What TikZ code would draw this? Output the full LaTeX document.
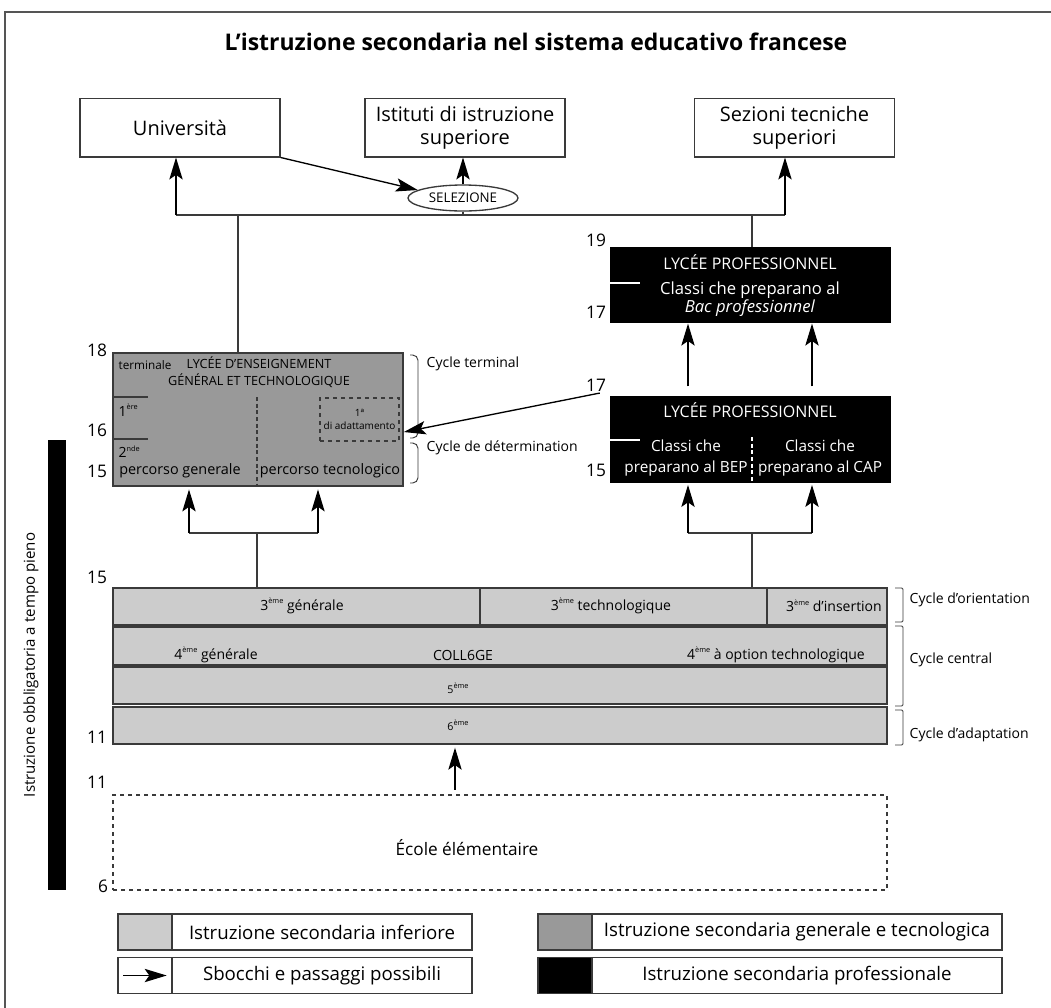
\documentclass[tikz,border=0pt]{standalone}
\usepackage{fontspec}
\setmainfont{Open Sans}
\usetikzlibrary{positioning,shapes,arrows.meta}

\definecolor{colgray}{HTML}{CCCCCC}
\definecolor{lycgray}{HTML}{999999}
\definecolor{edgegray}{HTML}{3A3A3A}
\definecolor{framegray}{HTML}{555555}
\newcommand{\esp}[1]{\raisebox{0.85ex}{\fontsize{5.5}{6}\selectfont #1}}

\begin{document}
\begin{tikzpicture}[x=0.75pt, y=-0.75pt]
    \tikzset{
        topbox/.style = {rectangle, draw=edgegray, line width=1pt, fill=white, minimum width=150pt, minimum height=44pt, align=center, inner sep=1pt, font=\fontsize{15}{17.25}\selectfont},
        lycbox/.style = {rectangle, draw=edgegray, line width=1.2pt, fill=lycgray, minimum width=217.5pt, minimum height=99.75pt},
        probox/.style = {rectangle, draw=black, fill=black, minimum width=210pt},
        rowbox/.style = {rectangle, draw=edgegray, line width=1.3pt, fill=colgray, minimum width=580.5pt, minimum height=28pt},
        age/.style = {font=\fontsize{13}{14}\selectfont},
        cyc/.style = {anchor=west, font=\fontsize{10.5}{12}\selectfont},
        coltext/.style = {font=\fontsize{10.5}{12}\selectfont},
        wtext/.style = {text=white, align=center},
        brack/.style = {draw=edgegray, line width=0.7pt},
        line/.style = {draw=edgegray, line width=1pt},
        arrow/.style = {draw=black, line width=1pt, -{Stealth[length=16.5pt, width=10pt, inset=3.5pt]}},
        legbox/.style = {rectangle, draw=edgegray, line width=1pt, minimum height=27pt, inner sep=0pt, outer sep=0pt}
    }
    \fill[white] (0,0) rectangle (1051,1008);
    \useasboundingbox (0,0) rectangle (1051,1008);
    \draw[framegray, line width=1.1pt] (5,1008) -- (5,12) -- (1051,12);

    \node (title) at (536,42) {\fontsize{17.2}{19}\selectfont\bfseries L’istruzione secondaria nel sistema educativo francese};

    % sbocchi
    \node (uni) [topbox] at (180,127.5) {Università};
    \node (isup) [topbox] at (465,127.5) {Istituti di istruzione\\superiore};
    \node (sts) [topbox] at (794.5,127.5) {Sezioni tecniche\\superiori};
    \node (sel) [ellipse, draw=edgegray, line width=1pt, fill=white, minimum width=82.5pt, minimum height=19.5pt, inner sep=0pt, font=\fontsize{10}{11}\selectfont] at (463,198) {SELEZIONE};

    \coordinate (hl) at (176,215);
    \coordinate (hr) at (785,215);
    \coordinate (hg) at (238,215);
    \coordinate (hp) at (752,215);

    % lycee general et technologique
    \node (lyg) [lycbox] at (258,419.5) {};
    \node (lygt) [font=\fontsize{9.5}{12.75}\selectfont, align=center] at (259,372.5) {LYCÉE D’ENSEIGNEMENT\\GÉNÉRAL ET TECHNOLOGIQUE};
    \node (term) [anchor=west, font=\fontsize{8.8}{10}\selectfont] at (114,365) {terminale};
    \node (prem) [anchor=west, font=\fontsize{10.5}{12}\selectfont] at (114,410) {1\esp{ère}};
    \node (sec) [anchor=west, font=\fontsize{10.5}{12}\selectfont] at (114,452) {2\esp{nde}};
    \node (pgen) [font=\fontsize{10.8}{12}\selectfont] at (180,471) {percorso generale};
    \node (ptec) [font=\fontsize{10.8}{12}\selectfont] at (330,471) {percorso tecnologico};
    \node (adat) [rectangle, draw=edgegray, dashed, line width=0.9pt, minimum width=59.25pt, minimum height=32.25pt, align=center, inner sep=0pt, font=\fontsize{7.5}{10}\selectfont] at (359.5,419.5) {1ª\\di adattamento};
    \draw[line] (113,397) -- (148,397);
    \draw[line] (113,439) -- (148,439);
    \draw[line, dash pattern=on 3pt off 2pt] (257,397) -- (257,486);

    % lycee professionnel
    \node (lp1) [probox, minimum height=56.25pt] at (750,284.5) {};
    \node (lp1t) [wtext, font=\fontsize{12}{13}\selectfont] at (750,262) {LYCÉE PROFESSIONNEL};
    \node (lp1c) [wtext, font=\fontsize{12.5}{13.5}\selectfont] at (750,299) {Classi che preparano al\\\textit{Bac professionnel}};
    \draw[white, line width=1pt] (610,283) -- (640,283);

    \node (lp2) [probox, minimum height=64.5pt] at (750,439) {};
    \node (lp2t) [wtext, font=\fontsize{12}{13}\selectfont] at (750,410) {LYCÉE PROFESSIONNEL};
    \node (bep) [wtext, font=\fontsize{11.5}{15.75}\selectfont] at (686,458) {Classi che\\preparano al BEP};
    \node (cap) [wtext, font=\fontsize{11.5}{15.75}\selectfont] at (820,458) {Classi che\\preparano al CAP};
    \draw[white, line width=1pt] (610,440) -- (640,440);
    \draw[white, line width=1pt, dash pattern=on 3pt off 2pt] (752,437) -- (752,482);

    % college
    \node (c3) [rowbox] at (500,606.5) {};
    \node (c4) [rowbox] at (500,646) {};
    \node (c5) [rowbox] at (500,685.5) {};
    \node (c6) [rowbox] at (500,725.5) {};
    \draw[line, line width=1.3pt] (480,588) -- (480,625);
    \draw[line, line width=1.3pt] (767,588) -- (767,625);
    \node (t3g) [coltext] at (302,606) {3\esp{ème} générale};
    \node (t3t) [coltext] at (611,606) {3\esp{ème} technologique};
    \node (t3i) [coltext] at (834,606) {3\esp{ème} d’insertion};
    \node (t4g) [coltext] at (216,655) {4\esp{ème} générale};
    \node (coll) [coltext] at (463,655) {COLL6GE};
    \node (t4t) [coltext] at (776,655) {4\esp{ème} à option technologique};
    \node (t5) [font=\fontsize{8}{9}\selectfont] at (458,688) {5\esp{ème}};
    \node (t6) [font=\fontsize{8}{9}\selectfont] at (458,725) {6\esp{ème}};

    % ecole
    \node (ecole) [rectangle, draw=edgegray, dashed, line width=0.9pt, minimum width=580.5pt, minimum height=71.25pt] at (500,842.5) {};
    \node (ecolet) [font=\fontsize{12.9}{14}\selectfont] at (467,848) {École élémentaire};
    \coordinate (ea) at (455,795);

    % eta
    \node (a19) [age] at (596,240) {19};
    \node (a17a) [age] at (596,312) {17};
    \node (a17b) [age] at (596,385) {17};
    \node (a15a) [age] at (596,470) {15};
    \node (a18) [age] at (97,350) {18};
    \node (a16) [age] at (97,430) {16};
    \node (a15b) [age] at (97,471) {15};
    \node (a15c) [age] at (97,577) {15};
    \node (a11a) [age] at (97,737) {11};
    \node (a11b) [age] at (97,782) {11};
    \node (a6) [age] at (103,886) {6};

    % cicli
    \draw[brack, rounded corners=4pt] (410,355) -- (418,355) -- (418,438) -- (410,438);
    \draw[brack, rounded corners=4pt] (410,443) -- (418,443) -- (418,483) -- (410,483);
    \draw[brack, rounded corners=1pt] (895,588) -- (903,588) -- (903,622) -- (895,622);
    \draw[brack, rounded corners=1pt] (895,626) -- (903,626) -- (903,706) -- (895,706);
    \draw[brack, rounded corners=1pt] (895,710) -- (903,710) -- (903,745) -- (895,745);
    \node (cterm) [cyc] at (422,364) {Cycle terminal};
    \node (cdet) [cyc] at (422,448) {Cycle de détermination};
    \node (cori) [cyc] at (905,600) {Cycle d’orientation};
    \node (ccen) [cyc] at (905,660) {Cycle central};
    \node (cada) [cyc] at (905,735) {Cycle d’adaptation};

    % obbligo
    \fill[black] (48,440) rectangle (66,890);
    \node (oblig) [rotate=90, font=\fontsize{11.3}{12}\selectfont] at (31,665) {Istruzione obbligatoria a tempo pieno};

    % connessioni
    \draw[line] (hl) -- (hr);
    \draw[arrow] (hl) -- (hl |- uni.south);
    \draw[arrow] (hr) -- (hr |- sts.south);
    \draw[line] (sel.south) -- (sel.south |- hl);
    \draw[arrow] (sel.north) -- (sel.north |- isup.south);
    \draw[arrow] (uni.south east) -- (sel.170);
    \draw[line] (hg) -- (hg |- lyg.north);
    \draw[line] (hp) -- (hp |- lp1.north);

    \coordinate (jg) at (257,533);
    \coordinate (jg1) at (189,533);
    \coordinate (jg2) at (318,533);
    \coordinate (jp) at (752,533);
    \coordinate (jp1) at (688,533);
    \coordinate (jp2) at (812,533);
    \draw[line] (c3.north -| jg) -- (jg);
    \draw[line] (jg1) -- (jg2);
    \draw[arrow, shorten >=2pt] (jg1) -- (jg1 |- lyg.south);
    \draw[arrow, shorten >=2pt] (jg2) -- (jg2 |- lyg.south);
    \draw[line] (c3.north -| jp) -- (jp);
    \draw[line] (jp1) -- (jp2);
    \draw[arrow, shorten >=2pt] (jp1) -- (jp1 |- lp2.south);
    \draw[arrow, shorten >=2pt] (jp2) -- (jp2 |- lp2.south);
    \draw[arrow, shorten <=7pt, shorten >=1pt] (jp1 |- lp2.north) -- (jp1 |- lp1.south);
    \draw[arrow, shorten <=7pt, shorten >=1pt] (jp2 |- lp2.north) -- (jp2 |- lp1.south);
    \draw[arrow] ([xshift=-7.5pt, yshift=2pt]lp2.north west) -- ([yshift=-9.4pt]lyg.east);
    \draw[arrow, shorten <=4pt, shorten >=2pt] (ea) -- (ea |- c6.south);

    % legenda
    \node (sw1) [legbox, fill=colgray, minimum width=40.5pt] at (145,932) {};
    \node (lg1) [legbox, right=0pt of sw1, minimum width=225pt, font=\fontsize{14}{15}\selectfont] {Istruzione secondaria inferiore};
    \node (sw2) [legbox, fill=lycgray, minimum width=40.5pt] at (565,932) {};
    \node (lg2) [legbox, right=0pt of sw2, minimum width=307.5pt, font=\fontsize{14}{15}\selectfont] {Istruzione secondaria generale e tecnologica};
    \node (sw3) [legbox, fill=white, minimum width=40.5pt] at (145,975.5) {};
    \node (lg3) [legbox, right=0pt of sw3, minimum width=225pt, font=\fontsize{14}{15}\selectfont] {Sbocchi e passaggi possibili};
    \node (sw4) [legbox, fill=black, minimum width=40.5pt] at (565,975.5) {};
    \node (lg4) [legbox, right=0pt of sw4, minimum width=307.5pt, font=\fontsize{14}{15}\selectfont] {Istruzione secondaria professionale};
    \draw[arrow] ([xshift=4pt]sw3.west) -- ([xshift=-4pt]sw3.east);
\end{tikzpicture}
\end{document}
